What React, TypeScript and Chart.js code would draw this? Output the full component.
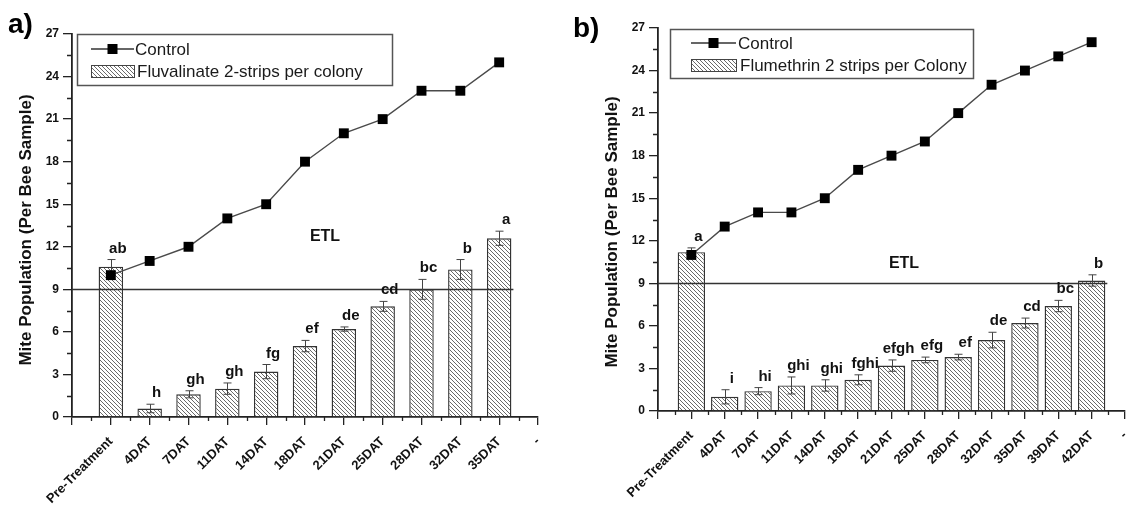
import React, { useEffect, useRef } from 'react';
import { Chart, registerables } from 'chart.js';

Chart.register(...registerables);

// ---------- Data ----------
const leftCategories = ['Pre-Treatment', '4DAT', '7DAT', '11DAT', '14DAT', '18DAT', '21DAT', '25DAT', '28DAT', '32DAT', '35DAT'];
const leftControl = [10, 11, 12, 14, 15, 18, 20, 21, 23, 23, 25];
const leftTreatment = [10.6, 0.6, 1.6, 2.0, 3.2, 5.0, 6.2, 7.8, 9.0, 10.4, 12.6];
const leftErrors = [0.5, 0.3, 0.25, 0.4, 0.5, 0.4, 0.15, 0.35, 0.7, 0.7, 0.5];
const leftLetters = ['ab', 'h', 'gh', 'gh', 'fg', 'ef', 'de', 'cd', 'bc', 'b', 'a'];
const leftTreatmentName = 'Fluvalinate 2-strips per colony';

const rightCategories = ['Pre-Treatment', '4DAT', '7DAT', '11DAT', '14DAT', '18DAT', '21DAT', '25DAT', '28DAT', '32DAT', '35DAT', '39DAT', '42DAT'];
const rightControl = [11, 13, 14, 14, 15, 17, 18, 19, 21, 23, 24, 25, 26];
const rightTreatment = [11.2, 1.0, 1.4, 1.8, 1.8, 2.2, 3.2, 3.6, 3.8, 5.0, 6.2, 7.4, 9.2];
const rightErrors = [0.3, 0.5, 0.25, 0.6, 0.4, 0.35, 0.4, 0.2, 0.2, 0.55, 0.35, 0.4, 0.4];
const rightLetters = ['a', 'i', 'hi', 'ghi', 'ghi', 'fghi', 'efgh', 'efg', 'ef', 'de', 'cd', 'bc', 'b'];
const rightTreatmentName = 'Flumethrin 2 strips per Colony';

const controlName = 'Control';
const yMin = 0;
const yMax = 27;
const yStep = 3;
const etlValue = 9;
const etlText = 'ETL';
const yTitle = 'Mite Population (Per Bee Sample)';
const endLabel = '-';

// ---------- Styling ----------
const FONT = "'Liberation Sans', Arial, sans-serif";
const AXIS = '#222';

type Layout = {
  panel: string;
  panelX: number;
  panelY: number;
  canvasLeft: number;
  width: number;
  yWidth: number;
  xHeight: number;
  padTop: number;
  padRight: number;
  barPct: number;
  titleX: number;
  titleY: number;
  legend: { x1: number; y1: number; x2: number; y2: number; sx1: number; sx2: number; r1: number; r2: number; tx: number };
  etlX: number;
  etlY: number;
};

type Spec = {
  categories: string[];
  control: number[];
  treatment: number[];
  errors: number[];
  letters: string[];
  treatmentName: string;
  layout: Layout;
};

function makeHatch(): CanvasPattern | string {
  const c = document.createElement('canvas');
  const s = 4;
  c.width = s;
  c.height = s;
  const g = c.getContext('2d');
  if (!g) return '#ccc';
  g.fillStyle = '#ffffff';
  g.fillRect(0, 0, s, s);
  g.strokeStyle = '#6a6a6a';
  g.lineWidth = 1;
  g.beginPath();
  g.moveTo(-1, -1);
  g.lineTo(s + 1, s + 1);
  g.moveTo(-1, s - 1);
  g.lineTo(1, s + 1);
  g.moveTo(s - 1, -1);
  g.lineTo(s + 1, 1);
  g.stroke();
  return g.createPattern(c, 'repeat') || '#ccc';
}

function MiteChart({ spec }: { spec: Spec }) {
  const ref = useRef<HTMLCanvasElement>(null);
  const L = spec.layout;

  useEffect(() => {
    const canvas = ref.current;
    if (!canvas) return;
    const hatch = makeHatch();
    const labels = ['', ...spec.categories, endLabel];
    const pad = (a: number[]) => [null, ...a, null];

    const overlay = {
      id: 'overlay',
      afterDatasetDraw(chart: any, args: any) {
        if (args.index !== 1) return;
        const ctx = chart.ctx as CanvasRenderingContext2D;
        const y = chart.scales.y;
        const area = chart.chartArea;
        const meta = chart.getDatasetMeta(1);
        // ETL line
        const lastBar = meta.data[spec.treatment.length];
        const etlEnd = lastBar.x + lastBar.width / 2 + 2;
        ctx.save();
        ctx.strokeStyle = '#333';
        ctx.lineWidth = 1.3;
        ctx.beginPath();
        const ey = Math.round(y.getPixelForValue(etlValue)) + 0.5;
        ctx.moveTo(area.left, ey);
        ctx.lineTo(etlEnd, ey);
        ctx.stroke();
        // error bars
        ctx.strokeStyle = '#444';
        ctx.lineWidth = 1;
        spec.treatment.forEach((v, i) => {
          const el = meta.data[i + 1];
          const x = Math.round(el.x) + 0.5;
          const yt = y.getPixelForValue(v + spec.errors[i]);
          const yb = y.getPixelForValue(v - spec.errors[i]);
          ctx.beginPath();
          ctx.moveTo(x, yt);
          ctx.lineTo(x, yb);
          ctx.moveTo(x - 4, yt);
          ctx.lineTo(x + 4, yt);
          ctx.moveTo(x - 4, yb);
          ctx.lineTo(x + 4, yb);
          ctx.stroke();
        });
        ctx.restore();
      },
      afterDraw(chart: any) {
        const ctx = chart.ctx as CanvasRenderingContext2D;
        const x = chart.scales.x;
        const y = chart.scales.y;
        const area = chart.chartArea;
        const meta = chart.getDatasetMeta(1);
        ctx.save();
        // minor ticks
        ctx.strokeStyle = AXIS;
        ctx.lineWidth = 1.3;
        ctx.beginPath();
        for (let i = 0; i < labels.length - 1; i++) {
          const px = Math.round((x.getPixelForValue(i) + x.getPixelForValue(i + 1)) / 2) + 0.5;
          ctx.moveTo(px, area.bottom);
          ctx.lineTo(px, area.bottom + 4);
        }
        for (let v = yStep / 2; v < yMax; v += yStep) {
          const py = Math.round(y.getPixelForValue(v)) + 0.5;
          ctx.moveTo(area.left, py);
          ctx.lineTo(area.left - 5, py);
        }
        ctx.stroke();

        // letters
        ctx.fillStyle = '#111';
        ctx.font = `bold 15px ${FONT}`;
        ctx.textAlign = 'center';
        ctx.textBaseline = 'alphabetic';
        spec.letters.forEach((t, i) => {
          const el = meta.data[i + 1];
          const top = y.getPixelForValue(spec.treatment[i] + spec.errors[i]);
          ctx.fillText(t, el.x + 7, top - 7);
        });

        // ETL text
        ctx.font = `bold 16px ${FONT}`;
        ctx.textBaseline = 'middle';
        ctx.fillText(etlText, L.etlX, L.etlY);

        // y title
        ctx.save();
        ctx.translate(L.titleX, L.titleY);
        ctx.rotate(-Math.PI / 2);
        ctx.font = `bold 17px ${FONT}`;
        ctx.textAlign = 'center';
        ctx.textBaseline = 'middle';
        ctx.fillText(yTitle, 0, 0);
        ctx.restore();

        // legend
        const lg = L.legend;
        ctx.strokeStyle = '#555';
        ctx.lineWidth = 1.5;
        ctx.strokeRect(lg.x1 + 0.5, lg.y1 + 0.5, lg.x2 - lg.x1, lg.y2 - lg.y1);
        ctx.strokeStyle = '#333';
        ctx.lineWidth = 1.3;
        ctx.beginPath();
        ctx.moveTo(lg.sx1, lg.r1);
        ctx.lineTo(lg.sx2, lg.r1);
        ctx.stroke();
        ctx.fillStyle = '#000';
        const cx = (lg.sx1 + lg.sx2) / 2;
        ctx.fillRect(cx - 5, lg.r1 - 5, 10, 10);
        ctx.fillStyle = hatch as any;
        ctx.fillRect(lg.sx1, lg.r2 - 6, lg.sx2 - lg.sx1, 12);
        ctx.strokeStyle = '#444';
        ctx.lineWidth = 1;
        ctx.strokeRect(lg.sx1 + 0.5, lg.r2 - 6 + 0.5, lg.sx2 - lg.sx1, 12);
        ctx.fillStyle = '#1a1a1a';
        ctx.font = `17px ${FONT}`;
        ctx.textAlign = 'left';
        ctx.textBaseline = 'middle';
        ctx.fillText(controlName, lg.tx, lg.r1 + 1);
        ctx.fillText(spec.treatmentName, lg.tx + 2, lg.r2 + 1);

        // panel label
        ctx.fillStyle = '#000';
        ctx.font = `bold 28px ${FONT}`;
        ctx.textBaseline = 'alphabetic';
        ctx.fillText(L.panel, L.panelX, L.panelY);
        ctx.restore();
      },
    };

    const chart = new Chart(canvas, {
      type: 'bar',
      data: {
        labels,
        datasets: [
          {
            type: 'line',
            label: controlName,
            data: pad(spec.control),
            borderColor: '#4a4a4a',
            borderWidth: 1.4,
            pointStyle: 'rect',
            pointRadius: 7,
            pointBackgroundColor: '#000',
            pointBorderColor: '#000',
            pointBorderWidth: 0,
            order: 0,
          } as any,
          {
            type: 'bar',
            label: spec.treatmentName,
            data: pad(spec.treatment),
            backgroundColor: hatch as any,
            borderColor: '#333',
            borderWidth: 1.4,
            categoryPercentage: 1,
            barPercentage: L.barPct,
            order: 1,
          } as any,
        ],
      },
      options: {
        responsive: false,
        animation: false,
        events: [],
        layout: { padding: { left: 0, top: L.padTop, right: L.padRight, bottom: 0 } },
        plugins: { legend: { display: false }, tooltip: { enabled: false } },
        scales: {
          x: {
            type: 'category',
            offset: false,
            grid: { offset: false, drawOnChartArea: false, drawTicks: true, tickLength: 8, color: AXIS, lineWidth: 1.3 },
            border: { display: true, color: AXIS, width: 1.8 },
            ticks: {
              autoSkip: false,
              minRotation: 45,
              maxRotation: 45,
              padding: 9,
              color: '#111',
              font: { family: FONT, weight: 'bold', size: 13 },
            },
            afterFit: (s: any) => {
              s.height = L.xHeight;
            },
          },
          y: {
            min: yMin,
            max: yMax,
            grid: { drawOnChartArea: false, drawTicks: true, tickLength: 9, color: AXIS, lineWidth: 1.3 },
            border: { display: true, color: AXIS, width: 1.8 },
            ticks: {
              stepSize: yStep,
              padding: 4,
              color: '#111',
              font: { family: FONT, weight: 'bold', size: 12 },
            },
            afterFit: (s: any) => {
              s.width = L.yWidth;
            },
          },
        },
      } as any,
      plugins: [overlay],
    });
    return () => chart.destroy();
  }, []);

  return (
    <canvas
      ref={ref}
      width={L.width}
      height={506}
      style={{ position: 'absolute', left: L.canvasLeft, top: 0, width: L.width, height: 506 }}
    />
  );
}

const leftSpec: Spec = {
  categories: leftCategories,
  control: leftControl,
  treatment: leftTreatment,
  errors: leftErrors,
  letters: leftLetters,
  treatmentName: leftTreatmentName,
  layout: {
    panel: 'a)',
    panelX: 8,
    panelY: 33,
    canvasLeft: 0,
    width: 560,
    yWidth: 72,
    xHeight: 89,
    padTop: 34,
    padRight: 22,
    barPct: 0.63,
    titleX: 26,
    titleY: 230,
    legend: { x1: 77, y1: 34, x2: 392, y2: 85, sx1: 91, sx2: 134, r1: 49, r2: 71, tx: 135 },
    etlX: 325,
    etlY: 237,
  },
};

const rightSpec: Spec = {
  categories: rightCategories,
  control: rightControl,
  treatment: rightTreatment,
  errors: rightErrors,
  letters: rightLetters,
  treatmentName: rightTreatmentName,
  layout: {
    panel: 'b)',
    panelX: 13,
    panelY: 37,
    canvasLeft: 560,
    width: 595,
    yWidth: 98,
    xHeight: 95,
    padTop: 28,
    padRight: 30,
    barPct: 0.82,
    titleX: 52,
    titleY: 232,
    legend: { x1: 110, y1: 29, x2: 413, y2: 78, sx1: 131, sx2: 176, r1: 43, r2: 65, tx: 178 },
    etlX: 344,
    etlY: 264,
  },
};

export default function App() {
  return (
    <div style={{ position: 'absolute', left: 0, top: 0, width: 1129, height: 506, background: '#fff', overflow: 'hidden' }}>
      <MiteChart spec={leftSpec} />
      <MiteChart spec={rightSpec} />
    </div>
  );
}
